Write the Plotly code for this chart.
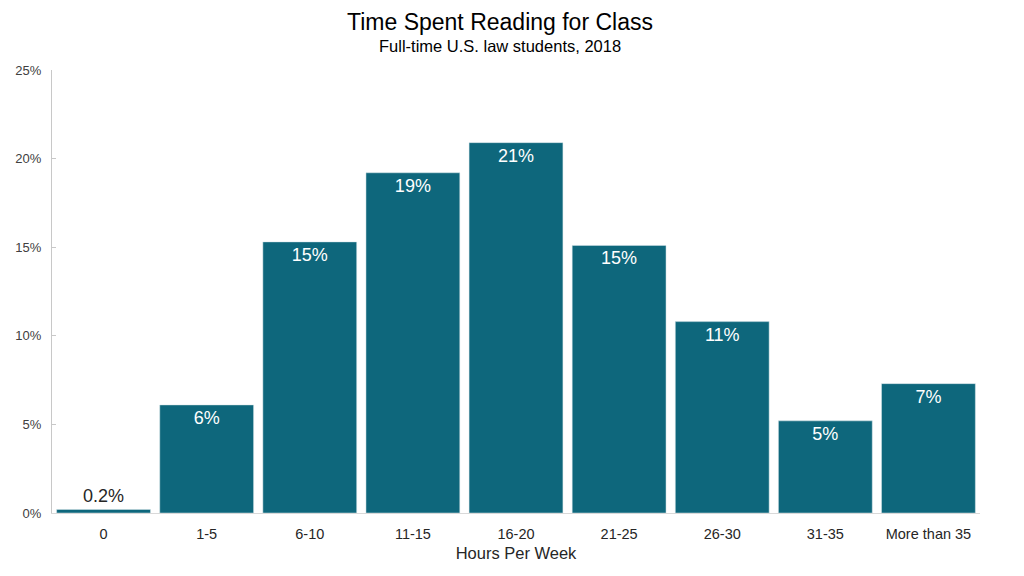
import plotly.graph_objects as go

categories = ["0", "1-5", "6-10", "11-15", "16-20", "21-25", "26-30", "31-35", "More than 35"]
values = [0.2, 6.1, 15.3, 19.2, 20.9, 15.1, 10.8, 5.2, 7.3]
labels = [f"{v:.1f}%" if v < 1 else f"{v:.0f}%" for v in values]
y_ticks = [0, 5, 10, 15, 20, 25]

BAR = "#0E677C"
FONT = "Liberation Sans, Arial, sans-serif"

fig = go.Figure()
fig.add_trace(go.Bar(
    x=categories, y=values, text=labels,
    textposition=["outside"] + ["inside"] * (len(values) - 1),
    insidetextanchor="end",
    textfont=dict(family=FONT, size=18),
    insidetextfont=dict(color="white", size=18, family=FONT),
    outsidetextfont=dict(color="#262626", size=18, family=FONT),
    marker=dict(color=BAR, line=dict(color="#D9E6EA", width=0.5)),
    cliponaxis=False,
))

plot_l, plot_r, plot_t, plot_b = 52, 44, 70, 63
plot_w = 1024 - plot_l - plot_r
plot_h = 576 - plot_t - plot_b

def px_x(px):
    return (px - plot_l) / plot_w

def px_y(py):
    return (576 - plot_b - py) / plot_h

fig.update_layout(
    width=1024, height=576,
    margin=dict(l=plot_l, r=plot_r, t=plot_t, b=plot_b),
    plot_bgcolor="white", paper_bgcolor="white",
    bargap=0.09,
    showlegend=False,
    font=dict(family=FONT, color="#404040"),
    xaxis=dict(
        showline=True, linecolor="#D9D9D9", linewidth=1,
        tickfont=dict(size=14.5, color="#262626"),
        ticks="", ticklabelstandoff=8,
        title=dict(text="Hours Per Week", font=dict(size=16.5, color="#262626"), standoff=6),
    ),
    yaxis=dict(
        range=[0, 25], tickvals=y_ticks, ticktext=[f"{t}%" for t in y_ticks],
        showgrid=False, zeroline=False,
        showline=True, linecolor="#C8C8C8", linewidth=1,
        ticks="inside", ticklen=4, tickcolor="#C8C8C8",
        ticklabelstandoff=7,
        tickfont=dict(size=13, color="#404040"),
    ),
    annotations=[
        dict(text="Time Spent Reading for Class", x=px_x(500), y=px_y(22),
             xref="paper", yref="paper", yanchor="middle", showarrow=False,
             font=dict(size=23, color="#000000", family=FONT)),
        dict(text="Full-time U.S. law students, 2018", x=px_x(500), y=px_y(46),
             xref="paper", yref="paper", yanchor="middle", showarrow=False,
             font=dict(size=16.5, color="#000000", family=FONT)),
    ],
)

fig.write_html("out.html")
